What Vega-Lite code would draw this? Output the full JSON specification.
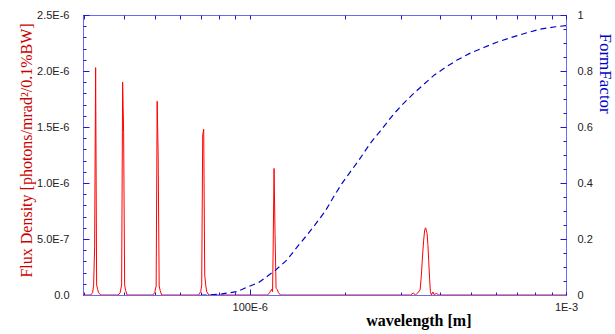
{
  "$schema": "https://vega.github.io/schema/vega-lite/v6.json",
  "width": 483,
  "height": 280,
  "autosize": {"type": "none"},
  "padding": {"left": 83, "top": 15, "right": 49, "bottom": 39},
  "background": "white",
  "config": {
    "view": {"stroke": "#6a6af0"},
    "axis": {
      "domainColor": "#6a6af0",
      "tickColor": "#1a1ad0",
      "labelFont": "Liberation Sans",
      "labelFontSize": 11,
      "labelColor": "#222222",
      "grid": false,
      "zindex": 1,
      "titleFont": "Liberation Serif"
    }
  },
  "datasets": {
    "flux": [
      {"w": 2.97e-5, "f": 0},
      {"w": 3.1396e-5, "f": 0}, {"w": 3.1856e-5, "f": 2e-8}, {"w": 3.2089e-5, "f": 9e-8}, {"w": 3.2324e-5, "f": 4.3e-7}, {"w": 3.256e-5, "f": 2.03e-6}, {"w": 3.2798e-5, "f": 9e-8}, {"w": 3.3038e-5, "f": 5e-8}, {"w": 3.3279e-5, "f": 2e-8}, {"w": 3.3768e-5, "f": 0},
      {"w": 3.8357e-5, "f": 0}, {"w": 3.892e-5, "f": 2e-8}, {"w": 3.9347e-5, "f": 9e-8}, {"w": 3.9635e-5, "f": 1.9e-6}, {"w": 3.9925e-5, "f": 1.45e-6}, {"w": 4.0217e-5, "f": 9e-8}, {"w": 4.0511e-5, "f": 4e-8}, {"w": 4.0956e-5, "f": 0},
      {"w": 4.9321e-5, "f": 0}, {"w": 5.0044e-5, "f": 2e-8}, {"w": 5.0593e-5, "f": 8e-8}, {"w": 5.0964e-5, "f": 1.73e-6}, {"w": 5.1337e-5, "f": 1.24e-6}, {"w": 5.1712e-5, "f": 8e-8}, {"w": 5.209e-5, "f": 4e-8}, {"w": 5.2662e-5, "f": 0},
      {"w": 6.8962e-5, "f": 0}, {"w": 6.9974e-5, "f": 3e-8}, {"w": 7.0485e-5, "f": 9e-8}, {"w": 7.1001e-5, "f": 1.43e-6}, {"w": 7.152e-5, "f": 1.48e-6}, {"w": 7.2043e-5, "f": 1.8e-7}, {"w": 7.2569e-5, "f": 9e-8}, {"w": 7.31e-5, "f": 3e-8}, {"w": 7.4173e-5, "f": 0},
      {"w": 1.1384e-4, "f": 0}, {"w": 1.1552e-4, "f": 2e-8}, {"w": 1.1721e-4, "f": 5e-8}, {"w": 1.1807e-4, "f": 3e-8}, {"w": 1.185e-4, "f": 3.4e-7}, {"w": 1.1936e-4, "f": 1.13e-6}, {"w": 1.2024e-4, "f": 5.4e-7}, {"w": 1.2112e-4, "f": 6e-8}, {"w": 1.22e-4, "f": 5e-8}, {"w": 1.2334e-4, "f": 2e-8}, {"w": 1.2515e-4, "f": 0},
      {"w": 3.2208e-4, "f": 0}, {"w": 3.292e-4, "f": 1.8e-8}, {"w": 3.34e-4, "f": 0}, {"w": 3.3968e-4, "f": 1.8e-8}, {"w": 3.4568e-4, "f": 4.5e-8}, {"w": 3.4897e-4, "f": 1.8e-7}, {"w": 3.5152e-4, "f": 3.3e-7}, {"w": 3.5481e-4, "f": 4.9e-7}, {"w": 3.574e-4, "f": 5.8e-7}, {"w": 3.5975e-4, "f": 6.0e-7}, {"w": 3.6371e-4, "f": 5.5e-7}, {"w": 3.6583e-4, "f": 4.5e-7}, {"w": 3.6797e-4, "f": 3.1e-7}, {"w": 3.7039e-4, "f": 1.5e-7}, {"w": 3.7256e-4, "f": 3e-8}, {"w": 3.7529e-4, "f": 0}, {"w": 3.7941e-4, "f": 2.7e-8}, {"w": 3.8358e-4, "f": 0}, {"w": 3.8921e-4, "f": 1.8e-8}, {"w": 3.9493e-4, "f": 0},
      {"w": 1.0e-3, "f": 0}
    ],
    "formfactor": [
      {"w": 7.0e-5, "ff": 0}, {"w": 7.5e-5, "ff": 0}, {"w": 8.17e-5, "ff": 0.004}, {"w": 9.11e-5, "ff": 0.012}, {"w": 9.8e-5, "ff": 0.028},
      {"w": 1.066e-4, "ff": 0.044}, {"w": 1.134e-4, "ff": 0.066}, {"w": 1.204e-4, "ff": 0.088}, {"w": 1.311e-4, "ff": 0.125}, {"w": 1.411e-4, "ff": 0.171},
      {"w": 1.517e-4, "ff": 0.214}, {"w": 1.612e-4, "ff": 0.252}, {"w": 1.734e-4, "ff": 0.3}, {"w": 1.842e-4, "ff": 0.351}, {"w": 1.958e-4, "ff": 0.399},
      {"w": 2.08e-4, "ff": 0.44}, {"w": 2.21e-4, "ff": 0.48}, {"w": 2.308e-4, "ff": 0.512}, {"w": 2.436e-4, "ff": 0.55}, {"w": 2.575e-4, "ff": 0.583},
      {"w": 2.704e-4, "ff": 0.613}, {"w": 2.851e-4, "ff": 0.646}, {"w": 3.031e-4, "ff": 0.679}, {"w": 3.299e-4, "ff": 0.72}, {"w": 3.533e-4, "ff": 0.75},
      {"w": 3.836e-4, "ff": 0.786}, {"w": 4.157e-4, "ff": 0.813}, {"w": 4.526e-4, "ff": 0.839}, {"w": 4.962e-4, "ff": 0.863}, {"w": 5.523e-4, "ff": 0.885},
      {"w": 6.013e-4, "ff": 0.902}, {"w": 6.675e-4, "ff": 0.919}, {"w": 7.39e-4, "ff": 0.934}, {"w": 8.245e-4, "ff": 0.949}, {"w": 9.265e-4, "ff": 0.958},
      {"w": 1.0e-3, "ff": 0.962}
    ]
  },
  "layer": [
    {
      "data": {"name": "flux"},
      "mark": {"type": "line", "color": "#ff0000", "strokeWidth": 1, "clip": true},
      "encoding": {
        "x": {
          "field": "w", "type": "quantitative",
          "scale": {"type": "log", "domain": [2.97e-5, 1.0e-3], "nice": false},
          "axis": {
            "orient": "bottom",
            "values": [3e-5, 4e-5, 5e-5, 6e-5, 7e-5, 8e-5, 9e-5, 1e-4, 2e-4, 3e-4, 4e-4, 5e-4, 6e-4, 7e-4, 8e-4, 9e-4, 1e-3],
            "labelExpr": "datum.value == 0.0001 ? '100E-6' : (datum.value == 0.001 ? '1E-3' : '')",
            "domain": false,
            "offset": -3,
            "tickSize": 3,
            "labelPadding": 6,
            "labelFlush": false,
            "labelOverlap": false,
            "title": "wavelength [m]",
            "titleFontSize": 16,
            "titleFontWeight": "bold",
            "titleColor": "#000000",
            "titleX": 388,
            "titleY": 33,
            "titleAlign": "right",
            "titleAnchor": null,
            "titleBaseline": "alphabetic"
          }
        },
        "y": {
          "field": "f", "type": "quantitative",
          "scale": {"domain": [0, 2.5e-6], "nice": false, "zero": true},
          "axis": {
            "orient": "left",
            "values": [0, 1e-7, 2e-7, 3e-7, 4e-7, 5e-7, 6e-7, 7e-7, 8e-7, 9e-7, 1e-6, 1.1e-6, 1.2e-6, 1.3e-6, 1.4e-6, 1.5e-6, 1.6e-6, 1.7e-6, 1.8e-6, 1.9e-6, 2e-6, 2.1e-6, 2.2e-6, 2.3e-6, 2.4e-6, 2.5e-6],
            "labelExpr": "round(datum.value*1e7) % 5 != 0 ? '' : (datum.value == 0 ? '0.0' : (datum.value < 1e-6 ? format(datum.value*1e7, '.1f') + 'E-7' : format(datum.value*1e6, '.1f') + 'E-6'))",
            "domain": false,
            "offset": -3,
            "tickSize": 3,
            "labelPadding": 14,
            "labelOverlap": false,
            "labelFlush": false,
            "title": "Flux Density  [photons/mrad²/0.1%BW]",
            "titleFontSize": 16,
            "titleFontWeight": "normal",
            "titleColor": "#cc0000",
            "titleAngle": -90,
            "titleX": -60,
            "titleY": 135,
            "titleAlign": "center",
            "titleBaseline": "middle",
            "titleAnchor": null
          }
        }
      }
    },
    {
      "data": {"name": "formfactor"},
      "mark": {"type": "line", "color": "#0000cc", "strokeWidth": 1.2, "strokeDash": [6, 4], "clip": true},
      "encoding": {
        "x": {
          "field": "w", "type": "quantitative",
          "scale": {"type": "log", "domain": [2.97e-5, 1.0e-3], "nice": false},
          "axis": {
            "orient": "top",
            "values": [3e-5, 4e-5, 5e-5, 6e-5, 7e-5, 8e-5, 9e-5, 1e-4, 2e-4, 3e-4, 4e-4, 5e-4, 6e-4, 7e-4, 8e-4, 9e-4, 1e-3],
            "labels": false,
            "domain": false,
            "offset": -4,
            "tickSize": 4,
            "title": null
          }
        },
        "y": {
          "field": "ff", "type": "quantitative",
          "scale": {"domain": [0, 1], "nice": false},
          "axis": {
            "orient": "right",
            "values": [0, 0.05, 0.1, 0.15, 0.2, 0.25, 0.3, 0.35, 0.4, 0.45, 0.5, 0.55, 0.6, 0.65, 0.7, 0.75, 0.8, 0.85, 0.9, 0.95, 1],
            "labelExpr": "round(datum.value*20) % 4 != 0 ? '' : (datum.value == 0 ? '0' : (datum.value == 1 ? '1' : format(datum.value, '.1f')))",
            "domain": false,
            "offset": -3,
            "tickSize": 3,
            "labelPadding": 11,
            "labelOverlap": false,
            "labelFlush": false,
            "title": "FormFactor",
            "titleFontSize": 17,
            "titleFontWeight": "normal",
            "titleColor": "#0000cc",
            "titleAngle": 90,
            "titleX": 41,
            "titleY": 18,
            "titleAlign": "left",
            "titleBaseline": "middle",
            "titleAnchor": null
          }
        }
      }
    },
    {
      "data": {"name": "formfactor"},
      "mark": {"type": "line", "opacity": 0},
      "encoding": {
        "x": {
          "field": "w", "type": "quantitative",
          "scale": {"type": "log", "domain": [2.97e-5, 1.0e-3], "nice": false},
          "axis": {
            "orient": "bottom",
            "domain": true,
            "ticks": false,
            "labels": false,
            "title": null,
            "zindex": 2
          }
        },
        "y": {
          "field": "ff", "type": "quantitative",
          "scale": {"domain": [0, 1], "nice": false},
          "axis": {
            "orient": "right",
            "values": [0, 0.2, 0.4, 0.6, 0.8, 1],
            "domain": false,
            "labels": false,
            "offset": -6,
            "tickSize": 6,
            "title": null
          }
        }
      }
    },
    {
      "data": {"name": "flux"},
      "mark": {"type": "line", "opacity": 0},
      "encoding": {
        "x": {
          "field": "w", "type": "quantitative",
          "scale": {"type": "log", "domain": [2.97e-5, 1.0e-3], "nice": false},
          "axis": {
            "orient": "bottom",
            "values": [1e-4],
            "domain": false,
            "labels": false,
            "offset": -6,
            "tickSize": 6,
            "title": null
          }
        },
        "y": {
          "field": "f", "type": "quantitative",
          "scale": {"domain": [0, 2.5e-6], "nice": false},
          "axis": {
            "orient": "left",
            "values": [0, 5e-7, 1e-6, 1.5e-6, 2e-6, 2.5e-6],
            "domain": false,
            "labels": false,
            "offset": -6,
            "tickSize": 6,
            "title": null
          }
        }
      }
    }
  ],
  "resolve": {"scale": {"y": "independent"}, "axis": {"x": "independent", "y": "independent"}}
}
